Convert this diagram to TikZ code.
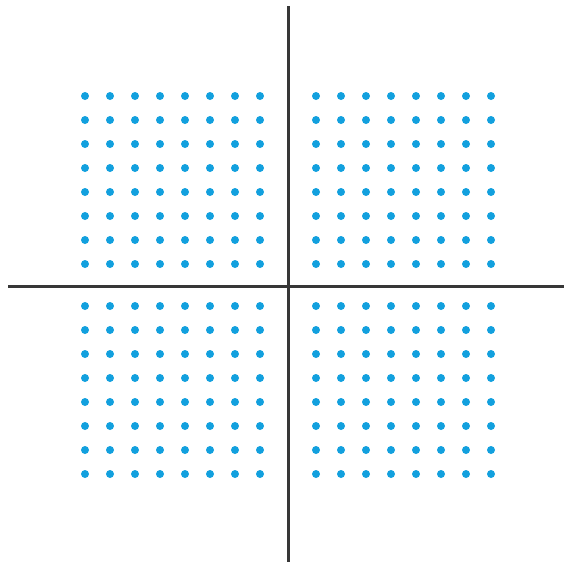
\documentclass[tikz,border=0pt]{standalone}
\definecolor{dotblue}{RGB}{18,160,222}
\definecolor{axisgray}{RGB}{55,55,55}
\tikzset{
  dotstyle/.style={fill=dotblue},
  axisline/.style={draw=axisgray,line width=3pt}
}
\begin{document}
\begin{tikzpicture}[x=1pt,y=-1pt]
\useasboundingbox (0,0) rectangle (566,566);
% dots
\foreach \cx in {85,110,135,160,185,210,235,260,316,341,366,391,416,441,466,491}{
  \foreach \cy in {96,120,144,168,192,216,240,264,306,330,354,378,402,426,450,474}{
    \fill[dotstyle] (\cx,\cy) circle (4);
  }
}
% axes
\coordinate (vt) at (288,6);
\coordinate (vb) at (288,562);
\coordinate (hl) at (8,286);
\coordinate (hr) at (564,286);
\draw[axisline] (vt) -- (vb);
\draw[axisline] (hl) -- (hr);
\end{tikzpicture}
\end{document}
